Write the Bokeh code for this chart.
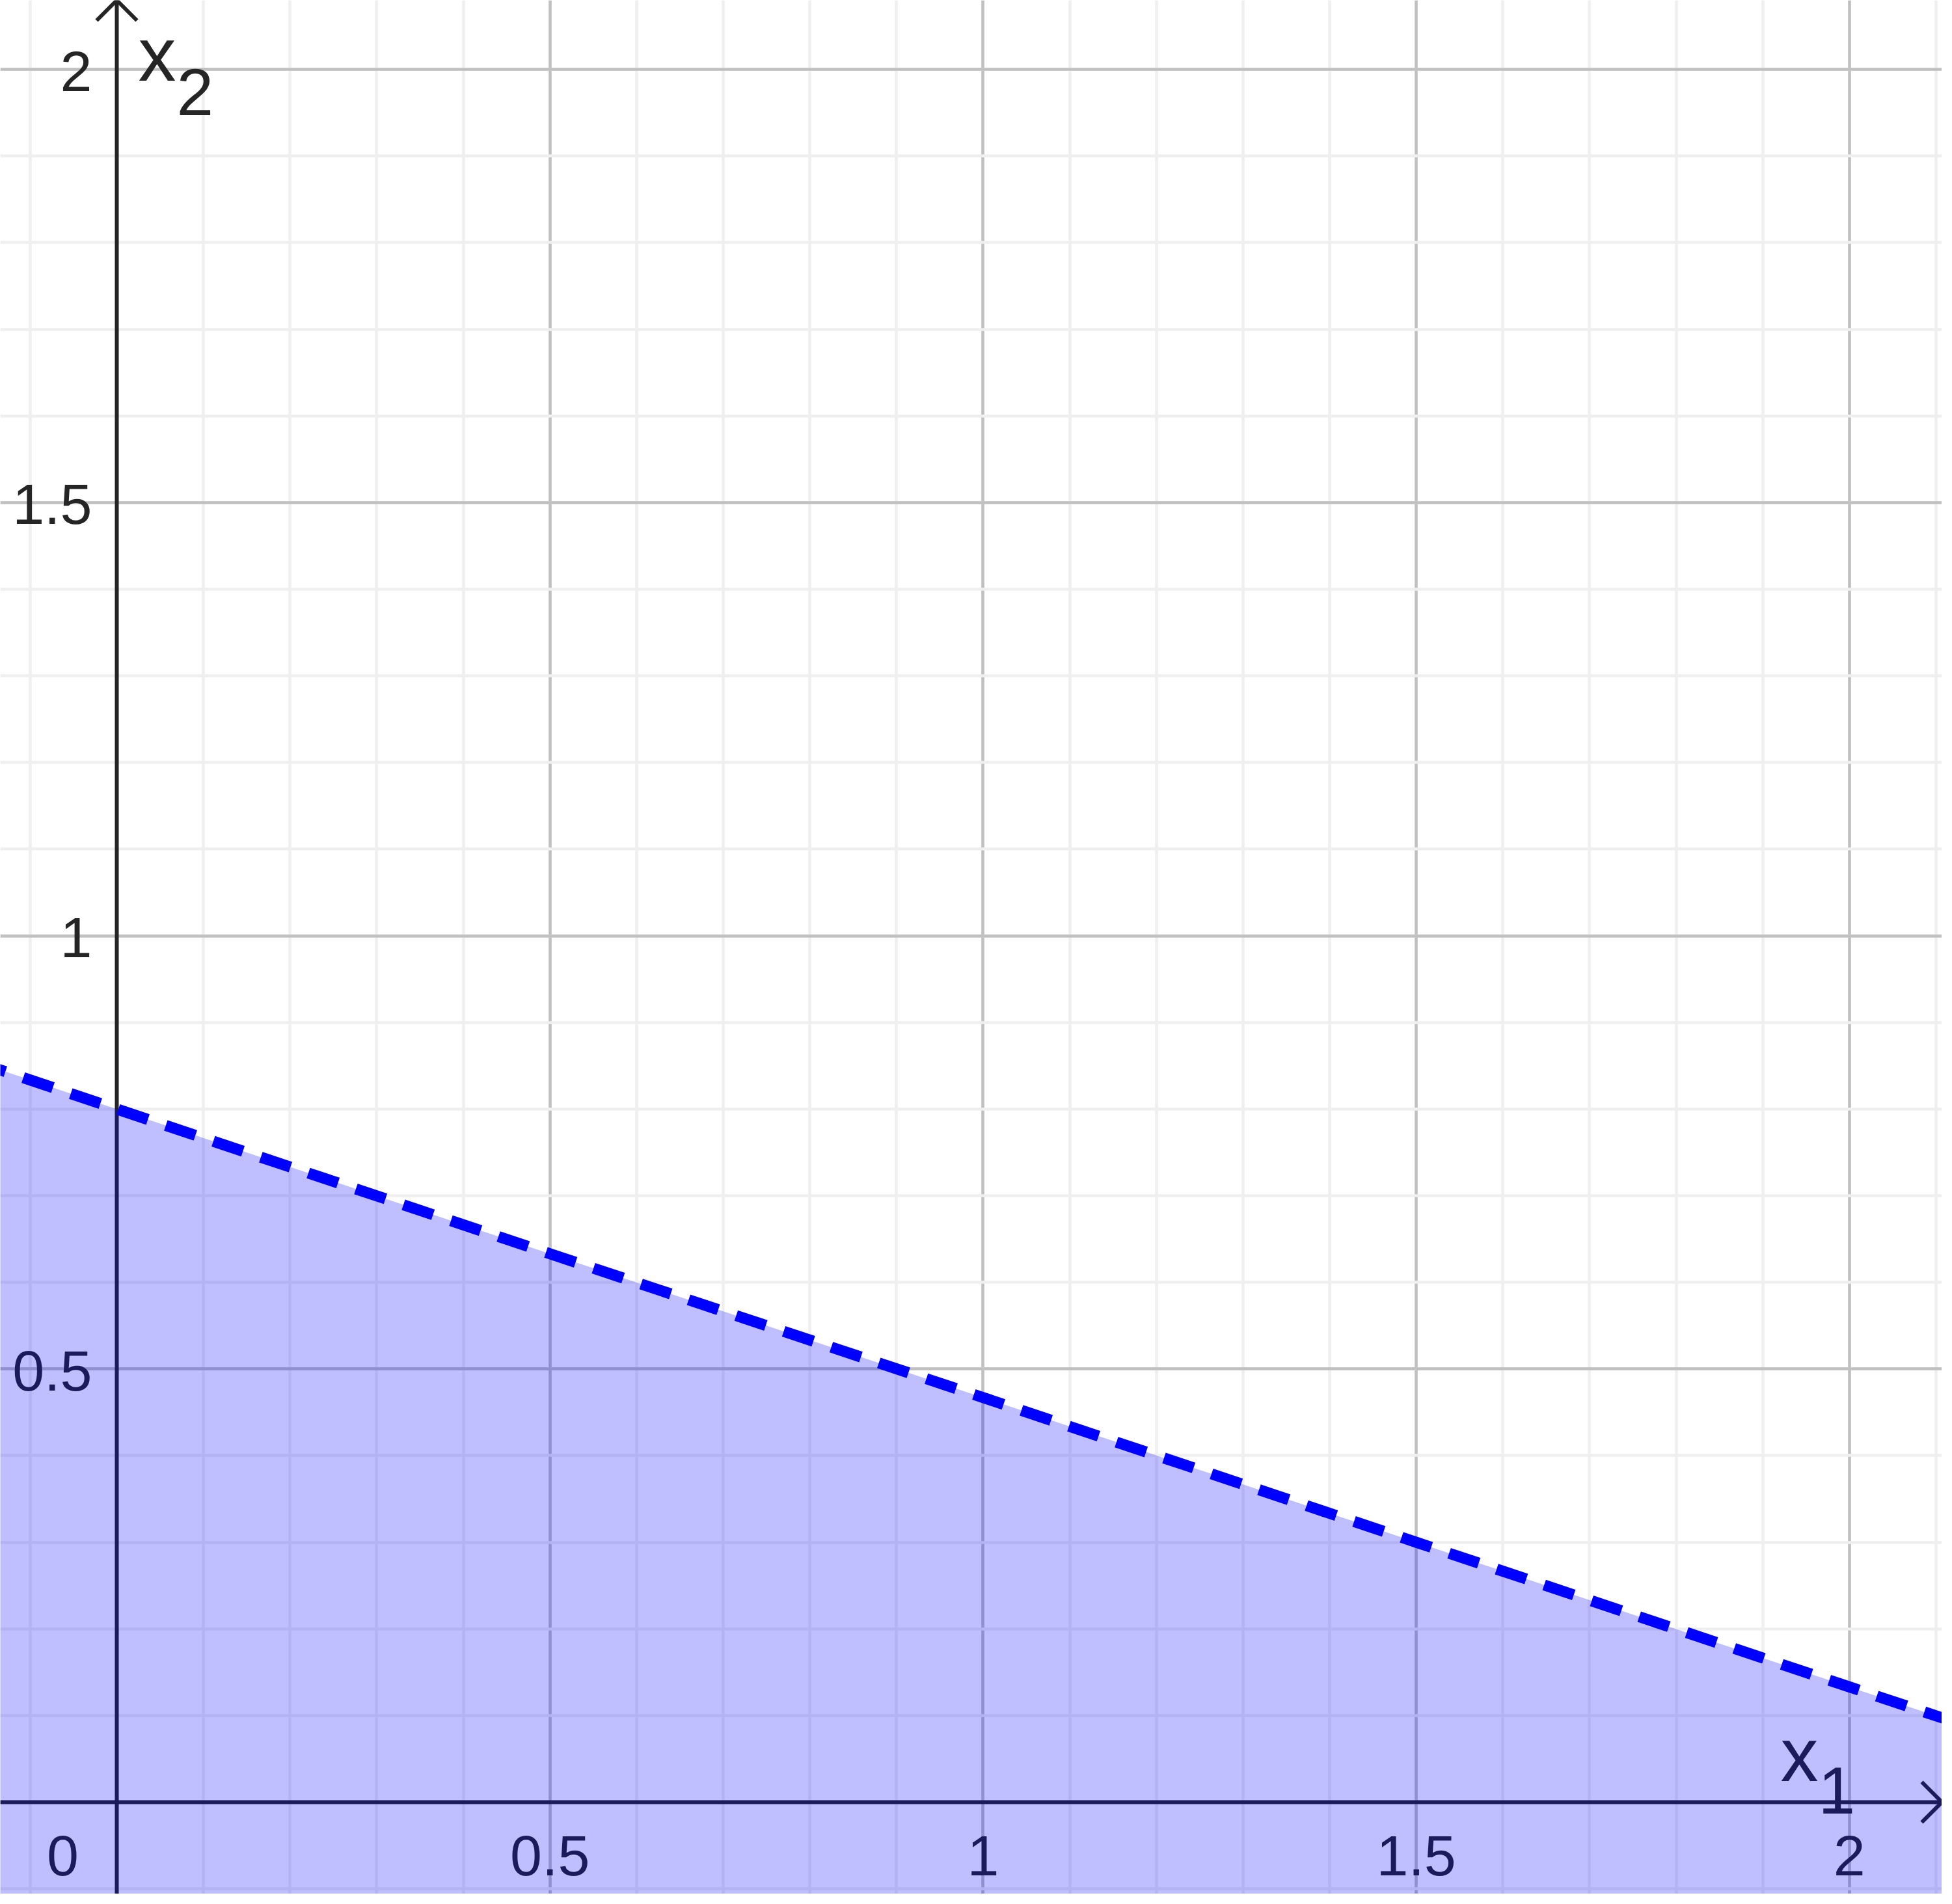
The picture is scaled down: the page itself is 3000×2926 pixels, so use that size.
from bokeh.plotting import figure
from bokeh.models import Range1d, Grid, SingleIntervalTicker
from bokeh.core.properties import value
from bokeh.embed import file_html
from bokeh.resources import INLINE

# boundary of the region (x2 along the dashed line)
x1 = [-0.14, 0.0, 0.5, 1.0, 1.5, 2.0, 2.12]
x2 = [0.847, 0.8, 0.633, 0.467, 0.3, 0.133, 0.093]

tick_vals = [0.5, 1, 1.5, 2]
tick_text = ["0.5", "1", "1.5", "2"]

W, H = 2984, 2910
SCALE = 1331.4  # pixels per unit, same on both axes
px = 1 / SCALE
xs, ye = -179 * px, 2769 * px
xe, ys = xs + W * px, ye - H * px

AX = "#252525"
FONT = value("Liberation Sans")

p = figure(width=W, height=H, x_range=Range1d(xs, xe), y_range=Range1d(ys, ye),
           x_axis_location=None, y_axis_location=None, toolbar_location=None,
           output_backend="svg", min_border=0, outline_line_color=None)
p.grid.visible = False

for dim in (0, 1):
    p.add_layout(Grid(dimension=dim,
                      ticker=SingleIntervalTicker(interval=0.5, num_minor_ticks=5),
                      grid_line_color="#c0c0c0", grid_line_width=4.5,
                      minor_grid_line_color="#efefef", minor_grid_line_width=4.5))

# axes with open arrow heads
p.segment(x0=[xs, 0], y0=[0, ys], x1=[xe, 0], y1=[0, ye], line_color=AX, line_width=6)
h = 31 * px
p.multi_line(xs=[[xe - h, xe, xe - h], [-h, 0, h]],
             ys=[[h, 0, -h], [ye - h, ye, ye - h]],
             line_color=AX, line_width=6, line_join="miter")

# tick labels
lab = dict(text_font=FONT, text_font_size="88px", text_color=AX, text_baseline="middle")
p.text(x=tick_vals, y=[-82 * px] * len(tick_vals), text=tick_text, text_align="center", **lab)
p.text(x=[-83 * px], y=[-82 * px], text=["0"], text_align="center", **lab)
p.text(x=[-38 * px] * len(tick_vals), y=[v - 3 * px for v in tick_vals], text=tick_text,
       text_align="right", **lab)

# axis names x1, x2
big = dict(text_font=FONT, text_color=AX, text_baseline="middle", text_align="left")
p.text(x=[2557 * px, 33 * px], y=[73 * px, 2686 * px], text=["x", "x"],
       text_font_size="116px", **big)
p.text(x=[2615 * px, 92 * px], y=[18 * px, 2628 * px], text=["1", "2"],
       text_font_size="102px", **big)

# shaded half-plane and its dashed boundary
p.varea(x=x1, y1=[ys] * len(x1), y2=x2, fill_color="#0000ff", fill_alpha=0.25)
p.line(x1, x2, line_color="#0000ff", line_width=17, line_dash="48 29", line_dash_offset=32)

open("out.html", "w").write(file_html(p, INLINE))
